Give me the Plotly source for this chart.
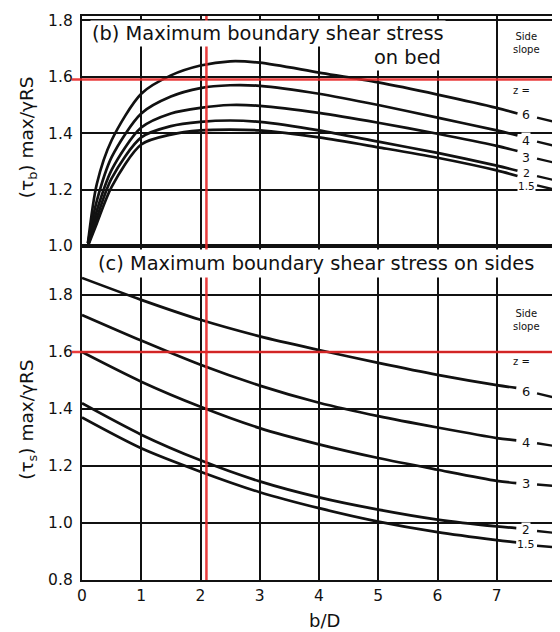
import plotly.graph_objects as go

# ---------------- data ----------------
slopes = ["6", "4", "3", "2", "1.5"]

# (b) bed
x_bed = [0.1, 0.25, 0.5, 1, 1.5, 2, 2.5, 3, 4, 5, 6, 7, 7.35]
bed = {
    "6":   [1.01, 1.22, 1.375, 1.54, 1.605, 1.64, 1.655, 1.65, 1.615, 1.58, 1.537, 1.49, 1.47],
    "4":   [1.01, 1.16, 1.315, 1.47, 1.53, 1.56, 1.57, 1.568, 1.54, 1.50, 1.455, 1.41, 1.392],
    "3":   [1.0, 1.125, 1.27, 1.42, 1.47, 1.49, 1.50, 1.497, 1.472, 1.437, 1.398, 1.355, 1.337],
    "2":   [1.0, 1.10, 1.24, 1.385, 1.425, 1.44, 1.445, 1.44, 1.41, 1.37, 1.33, 1.285, 1.267],
    "1.5": [1.0, 1.08, 1.21, 1.36, 1.395, 1.41, 1.413, 1.41, 1.385, 1.35, 1.313, 1.268, 1.248],
}
bed_label_y = [1.465, 1.375, 1.315, 1.258, 1.214]
bed_dash_y0 = [1.455, 1.37, 1.31, 1.248, 1.215]
bed_dash_y1 = [1.44, 1.355, 1.295, 1.233, 1.20]

# (c) sides
x_side = [0, 1, 2, 3, 4, 5, 6, 7, 7.33]
side = {
    "6":   [1.86, 1.783, 1.713, 1.655, 1.607, 1.562, 1.52, 1.484, 1.474],
    "4":   [1.73, 1.64, 1.555, 1.482, 1.422, 1.375, 1.335, 1.298, 1.29],
    "3":   [1.60, 1.496, 1.408, 1.333, 1.276, 1.228, 1.187, 1.148, 1.14],
    "2":   [1.42, 1.31, 1.22, 1.146, 1.09, 1.047, 1.012, 0.988, 0.982],
    "1.5": [1.37, 1.262, 1.18, 1.108, 1.052, 1.005, 0.968, 0.94, 0.932],
}
side_label_y = [1.46, 1.282, 1.137, 0.975, 0.923]
side_dash_y0 = [1.455, 1.28, 1.135, 0.972, 0.92]
side_dash_y1 = [1.44, 1.27, 1.13, 0.965, 0.915]

label_x = 7.5
dash_x = [7.68, 7.98]

red_x = 2.1
red_y_bed = 1.59
red_y_side = 1.6

x_ticks = [0, 1, 2, 3, 4, 5, 6, 7, 8]
bed_y_ticks = [1.0, 1.2, 1.4, 1.6, 1.8]
side_y_ticks = [0.8, 1.0, 1.2, 1.4, 1.6, 1.8]

# ---------------- figure ----------------
FONT = "DejaVu Sans"
INK = "#111111"
bed_label_size = [12.5, 12.5, 12.5, 11, 10.5]
side_label_size = [13, 13, 13, 12, 11]

fig = go.Figure()

for s in slopes:
    fig.add_trace(go.Scatter(x=x_bed, y=bed[s], mode="lines", xaxis="x2", yaxis="y2",
                             line=dict(color=INK, width=2.7, shape="spline", smoothing=0.8),
                             showlegend=False, hoverinfo="skip"))
    fig.add_trace(go.Scatter(x=x_side, y=side[s], mode="lines", xaxis="x", yaxis="y",
                             line=dict(color=INK, width=2.7, shape="spline", smoothing=0.8),
                             showlegend=False, hoverinfo="skip"))

for i, s in enumerate(slopes):
    fig.add_trace(go.Scatter(x=dash_x, y=[bed_dash_y0[i], bed_dash_y1[i]], mode="lines",
                             xaxis="x2", yaxis="y2", line=dict(color=INK, width=2.4),
                             showlegend=False, hoverinfo="skip"))
    fig.add_trace(go.Scatter(x=dash_x, y=[side_dash_y0[i], side_dash_y1[i]], mode="lines",
                             xaxis="x", yaxis="y", line=dict(color=INK, width=2.4),
                             showlegend=False, hoverinfo="skip"))

ann = []
for i, s in enumerate(slopes):
    ann.append(dict(x=label_x, y=bed_label_y[i], xref="x2", yref="y2", text=s, showarrow=False,
                    font=dict(family=FONT, size=bed_label_size[i], color=INK),
                    bgcolor="white", borderpad=0))
    ann.append(dict(x=label_x, y=side_label_y[i], xref="x", yref="y", text=s, showarrow=False,
                    font=dict(family=FONT, size=side_label_size[i], color=INK),
                    bgcolor="white", borderpad=0))

for xr, yr, ys, yz in [("x2", "y2", 1.72, 1.553), ("x", "y", 1.712, 1.565)]:
    ann.append(dict(x=7.51, y=ys, xref=xr, yref=yr, text="Side<br>slope", showarrow=False,
                    font=dict(family=FONT, size=10, color=INK), bgcolor="white", borderpad=1))
    ann.append(dict(x=7.42, y=yz, xref=xr, yref=yr, text="z =", showarrow=False,
                    font=dict(family=FONT, size=10, color=INK), bgcolor="white", borderpad=0))

ann.append(dict(x=0.135, y=1.755, xref="x2", yref="y2", xanchor="left", yanchor="middle",
                text="(b) Maximum boundary shear stress", showarrow=False,
                font=dict(family=FONT, size=19.4, color=INK), bgcolor="white", borderpad=1))
ann.append(dict(x=6.09, y=1.67, xref="x2", yref="y2", xanchor="right", yanchor="middle",
                text="on bed", showarrow=False,
                font=dict(family=FONT, size=19.4, color=INK), bgcolor="white", borderpad=1))
ann.append(dict(x=0.22, y=1.912, xref="x", yref="y", xanchor="left", yanchor="middle",
                text="(c) Maximum boundary shear stress on sides", showarrow=False,
                font=dict(family=FONT, size=19.4, color=INK), bgcolor="white", borderpad=2))

ann.append(dict(x=-0.114, y=0.785, xref="paper", yref="paper", textangle=-90,
                xanchor="center", yanchor="middle",
                text="(τ<sub>b</sub>) max/γRS", showarrow=False,
                font=dict(family=FONT, size=18.5, color=INK)))
ann.append(dict(x=-0.114, y=0.284, xref="paper", yref="paper", textangle=-90,
                xanchor="center", yanchor="middle",
                text="(τ<sub>s</sub>) max/γRS", showarrow=False,
                font=dict(family=FONT, size=18.5, color=INK)))
ann.append(dict(x=4.1, y=-0.071, xref="x", yref="paper", xanchor="center", yanchor="middle",
                text="b/D", showarrow=False,
                font=dict(family=FONT, size=18, color=INK)))

RED = "rgba(232,40,40,0.9)"
shapes = [
    dict(type="line", xref="paper", yref="y2", x0=-0.022, x1=1.01, y0=red_y_bed, y1=red_y_bed,
         line=dict(color=RED, width=2.5), layer="above"),
    dict(type="line", xref="paper", yref="y", x0=-0.022, x1=1.01, y0=red_y_side, y1=red_y_side,
         line=dict(color=RED, width=2.5), layer="above"),
    dict(type="line", xref="x", yref="paper", x0=red_x, x1=red_x, y0=0, y1=1,
         line=dict(color=RED, width=2.5), layer="above"),
]

axis_common = dict(showline=True, mirror=True, linecolor=INK, linewidth=2.3, automargin=False,
                   showgrid=True, gridcolor=INK, gridwidth=2.1, zeroline=False, ticks="",
                   tickfont=dict(family=FONT, size=15.5, color=INK))

# the page body adds an 8px margin, so the figure is sized to fit the 560x632 window
DOM = 0.5922
fig.update_layout(
    width=552, height=624,
    margin=dict(l=74, r=4, t=8, b=52),
    paper_bgcolor="white", plot_bgcolor="white",
    showlegend=False,
    xaxis=dict(domain=[0, 1], anchor="y", range=[0, 8], tickvals=x_ticks, **axis_common),
    yaxis=dict(domain=[0, DOM], anchor="x", range=[0.8, 1.972], tickvals=side_y_ticks,
               tickformat=".1f", ticklabelstandoff=4, **axis_common),
    xaxis2=dict(domain=[0, 1], anchor="y2", range=[0, 8], tickvals=x_ticks,
                showticklabels=False, **axis_common),
    yaxis2=dict(domain=[DOM, 1], anchor="x2", range=[1.0, 1.8156], tickvals=bed_y_ticks,
                tickformat=".1f", ticklabelstandoff=4, **axis_common),
    annotations=ann,
    shapes=shapes,
)

fig.write_html("out.html")
